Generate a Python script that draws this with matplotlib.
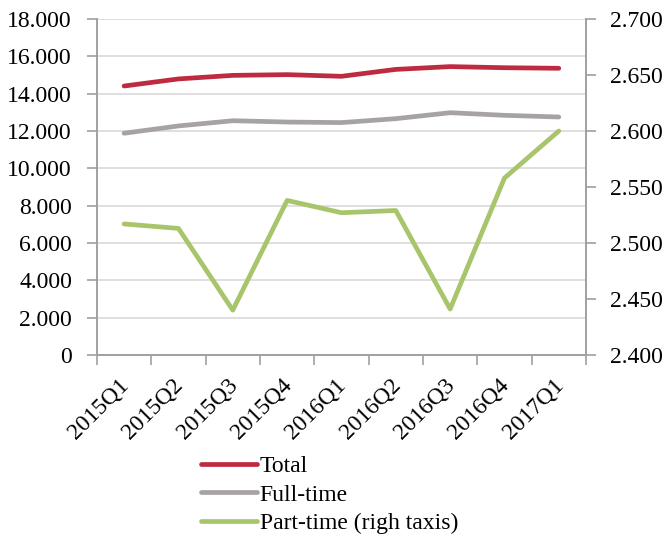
import matplotlib
matplotlib.use("Agg")
import matplotlib.pyplot as plt
import matplotlib.transforms as mtransforms
from matplotlib.ticker import FuncFormatter, MultipleLocator

quarters = ["2015Q1", "2015Q2", "2015Q3", "2015Q4", "2016Q1",
            "2016Q2", "2016Q3", "2016Q4", "2017Q1"]
total = [14410, 14790, 14980, 15020, 14930, 15300, 15450, 15390, 15360]
full_time = [11880, 12270, 12550, 12480, 12450, 12660, 12980, 12840, 12750]
part_time = [2517, 2513, 2440, 2538, 2527, 2529, 2441, 2558, 2600]

plt.rcParams['font.family'] = ['Liberation Serif', 'DejaVu Serif']

red = '#BE2B40'
grey = '#A7A3A4'
green = '#A9C56B'
spine_col = '#A0A0A0'


def dot_thousands(v, pos):
    return f"{v:,.0f}".replace(",", ".")


fig = plt.figure(figsize=(6.64, 5.37), dpi=100)
ax = fig.add_axes([0.146, 0.339, 0.7365, 0.6256])
ax2 = ax.twinx()

x = list(range(len(quarters)))
l1, = ax.plot(x, total, color=red, lw=3.4, solid_capstyle='round', label='Total')
l2, = ax.plot(x, full_time, color=grey, lw=3.4, solid_capstyle='round', label='Full-time')
l3, = ax2.plot(x, part_time, color=green, lw=3.4, solid_capstyle='round',
               label='Part-time (righ taxis)')

ax.set_ylim(0, 18000)
ax.yaxis.set_major_locator(MultipleLocator(2000))
ax.yaxis.set_major_formatter(FuncFormatter(dot_thousands))
ax2.set_ylim(2400, 2700)
ax2.yaxis.set_major_locator(MultipleLocator(50))
ax2.yaxis.set_major_formatter(FuncFormatter(dot_thousands))

ax.set_xlim(-0.5, len(quarters) - 0.5)
ax.set_xticks([i - 0.5 for i in range(len(quarters) + 1)])
ax.set_xticklabels([])
ax.set_xticks(x, minor=True)
ax.set_xticklabels(quarters, minor=True, rotation=45, ha='right',
                   rotation_mode='anchor', fontsize=17)
ax.tick_params(axis='x', which='minor', length=0, pad=14)
ax.tick_params(axis='x', which='major', length=7, color=spine_col, width=1.2)
# nudge the rotated labels a little to the left
shift = mtransforms.ScaledTranslation(-6 / 100, 0, fig.dpi_scale_trans)
for lbl in ax.get_xticklabels(minor=True):
    lbl.set_transform(lbl.get_transform() + shift)

ax.grid(axis='y', color='#DCDCDC', lw=1.3)
ax.set_axisbelow(True)

for a in (ax, ax2):
    a.spines['top'].set_visible(False)
    for s in ('left', 'right', 'bottom'):
        a.spines[s].set_color(spine_col)
        a.spines[s].set_linewidth(1.2)
ax.tick_params(axis='y', labelsize=17, length=7, color=spine_col, width=1.2, pad=11)
ax2.tick_params(axis='y', labelsize=17, length=7, color=spine_col, width=1.2, pad=10)

fig.legend(handles=[l1, l2, l3], loc='upper left', bbox_to_anchor=(0.302, 0.152),
           frameon=False, fontsize=17, handlelength=2.4, handletextpad=0.1,
           labelspacing=0.3, borderaxespad=0, borderpad=0)

fig.savefig("out.png", dpi=100)
